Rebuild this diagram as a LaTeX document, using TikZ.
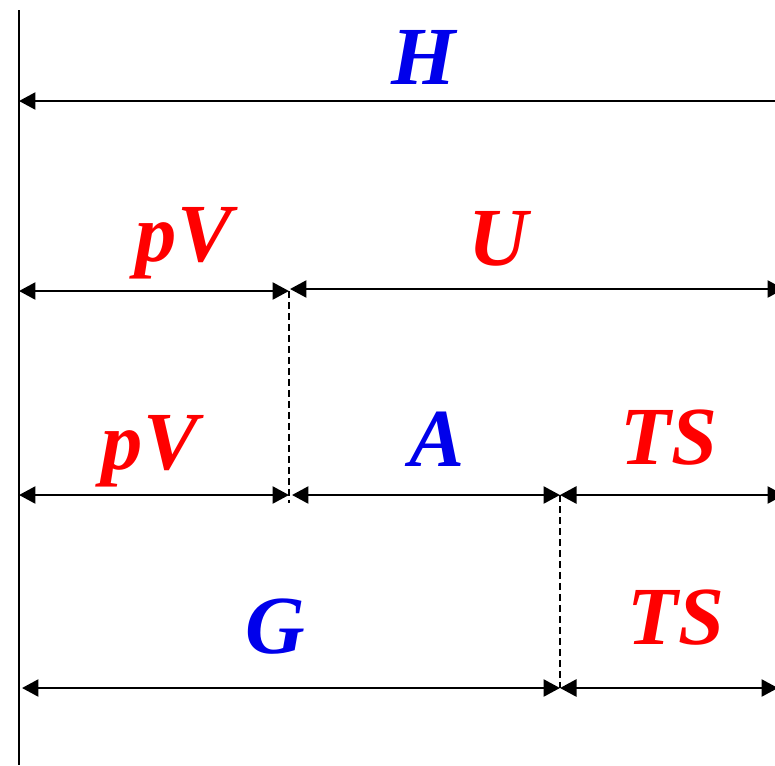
\documentclass[tikz,border=0pt]{standalone}
\usepackage{fontspec}
\setmainfont{Liberation Serif}
\usetikzlibrary{arrows.meta}
\definecolor{termred}{RGB}{255,0,0}
\definecolor{termblue}{RGB}{0,0,235}

\begin{document}
\begin{tikzpicture}[x=0.02cm, y=-0.02cm,
    dimline/.style={{Triangle[length=0.33cm,width=0.34cm]}-{Triangle[length=0.33cm,width=0.34cm]}, line width=1.5pt},
    leftline/.style={{Triangle[length=0.33cm,width=0.34cm]}-, line width=1.5pt},
    guide/.style={line width=1.4pt, dash pattern=on 0.14cm off 0.08cm},
    term/.style={anchor=base, inner sep=0pt, font=\fontsize{47}{50}\selectfont\bfseries\itshape}]
    \useasboundingbox (0,0) rectangle (775,765);

    % Axis
    \coordinate (axtop) at (19,10);
    \coordinate (axbot) at (19,765);
    \draw[line width=1.5pt] (axtop) -- (axbot);

    % Row 1: enthalpy
    \coordinate (h0) at (19,101);
    \coordinate (h1) at (820,101);
    \draw[leftline] (h0) -- (h1);
    \node[term, text=termblue] (lH) at (424,84) {H};

    % Row 2: pV and U
    \coordinate (r2a) at (19,291);
    \coordinate (r2b) at (289,291);
    \coordinate (r2c) at (290,289);
    \coordinate (r2d) at (784,289);
    \draw[dimline] (r2a) -- (r2b);
    \draw[dimline] (r2c) -- (r2d);
    \node[term, text=termred] (lpV1) at (184,261) {pV};
    \node[term, text=termred] (lU) at (498,265) {U};

    % Row 3: pV, A and TS
    \coordinate (r3a) at (19,495);
    \coordinate (r3b) at (289,495);
    \coordinate (r3c) at (292,495);
    \coordinate (r3d) at (560,495);
    \coordinate (r3e) at (784,495);
    \draw[dimline] (r3a) -- (r3b);
    \draw[dimline] (r3c) -- (r3d);
    \draw[dimline] (r3d) -- (r3e);
    \node[term, text=termred] (lpV2) at (150,469) {pV};
    \node[term, text=termblue] (lA) at (437,466) {A};
    \node[term, text=termred] (lTS1) at (669,464) {TS};

    % Row 4: G and TS
    \coordinate (r4a) at (22,688);
    \coordinate (r4b) at (560,688);
    \coordinate (r4c) at (778,688);
    \draw[dimline] (r4a) -- (r4b);
    \draw[dimline] (r4b) -- (r4c);
    \node[term, text=termblue] (lG) at (275,653) {G};
    \node[term, text=termred] (lTS2) at (676,644) {TS};

    % Guides
    \coordinate (g1) at (289,503);
    \draw[guide] (r2b) -- (g1);
    \draw[guide] (r3d) -- (r4b);
\end{tikzpicture}
\end{document}
